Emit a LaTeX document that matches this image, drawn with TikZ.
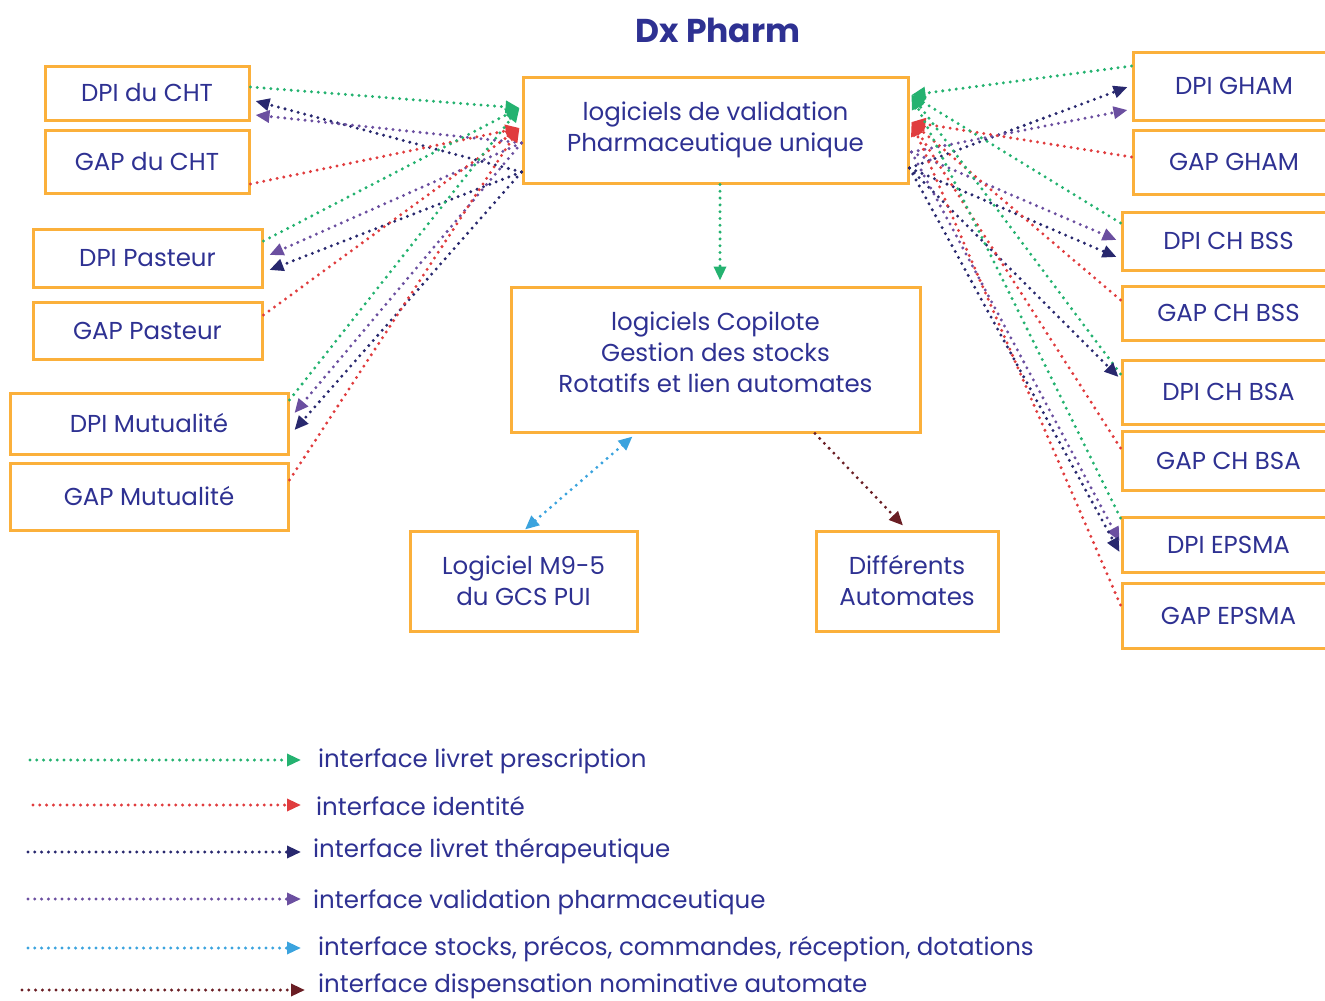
\documentclass[tikz,border=0pt]{standalone}
\usepackage{fontspec}
\setmainfont{Poppins}
\usetikzlibrary{arrows.meta}
\definecolor{txtblue}{RGB}{46,49,146}
\definecolor{boxorange}{RGB}{251,176,59}
\definecolor{pgreen}{RGB}{36,178,112}
\definecolor{pred}{RGB}{224,60,62}
\definecolor{pnavy}{RGB}{40,40,110}
\definecolor{ppurple}{RGB}{107,79,160}
\definecolor{pblue}{RGB}{59,163,222}
\definecolor{pbrown}{RGB}{106,30,36}
\begin{document}
\begin{tikzpicture}
    [
    x=1pt, y=-1pt,
    Tri/.tip={Triangle[length=14pt,width=12pt]},
    box/.style={draw=boxorange,line width=3pt,inner sep=0pt,align=center,text=txtblue,font=\fontsize{24.5}{31}\selectfont},
    legend/.style={anchor=base west,inner sep=0pt,text=txtblue,font=\fontsize{24.5}{31}\selectfont},
    link/.style={line width=3.3pt,line cap=round,dash pattern=on 0pt off 6.8pt,-Tri},
    prescription/.style={link,draw=pgreen},
    identite/.style={link,draw=pred},
    livret/.style={link,draw=pnavy},
    validation/.style={link,draw=ppurple},
    stocks/.style={link,draw=pblue,Tri-Tri},
    dispensation/.style={link,draw=pbrown}
    ]
    \useasboundingbox (0,0) rectangle (1325,1001);
    \node (title) at (718,30) [text=txtblue,font=\bfseries\fontsize{33}{40}\selectfont] {Dx Pharm};
    % central software
    \node (V) at (715.5,130) [box,minimum width=385,minimum height=106] {logiciels de validation\\Pharmaceutique unique};
    \node (Copilote) at (715.5,359.5) [box,minimum width=409,minimum height=145,text depth=14pt] {logiciels Copilote\\Gestion des stocks\\Rotatifs et lien automates};
    \node (M95) at (523.5,581) [box,minimum width=227,minimum height=100] {Logiciel M9-5\\du GCS PUI};
    \node (Autom) at (907,581) [box,minimum width=182,minimum height=100] {Différents\\Automates};
    % left sites
    \node (DPIcht) at (147,93) [box,minimum width=204,minimum height=54] {DPI du CHT};
    \node (GAPcht) at (147,161.5) [box,minimum width=204,minimum height=63] {GAP du CHT};
    \node (DPIpast) at (147.5,258) [box,minimum width=229,minimum height=58] {DPI Pasteur};
    \node (GAPpast) at (147.5,330.5) [box,minimum width=229,minimum height=57] {GAP Pasteur};
    \node (DPImut) at (149,423.5) [box,minimum width=278,minimum height=61] {DPI Mutualité};
    \node (GAPmut) at (149,496.5) [box,minimum width=278,minimum height=67] {GAP Mutualité};
    % right sites
    \node (DPIgham) at (1234,86) [box,minimum width=202,minimum height=68] {DPI GHAM};
    \node (GAPgham) at (1234,162) [box,minimum width=202,minimum height=64] {GAP GHAM};
    \node (DPIbss) at (1228.5,241) [box,minimum width=213,minimum height=58] {DPI CH BSS};
    \node (GAPbss) at (1228.5,313) [box,minimum width=213,minimum height=54] {GAP CH BSS};
    \node (DPIbsa) at (1228.5,392) [box,minimum width=213,minimum height=64] {DPI CH BSA};
    \node (GAPbsa) at (1228.5,460.5) [box,minimum width=213,minimum height=59] {GAP CH BSA};
    \node (DPIepsma) at (1228.5,544.5) [box,minimum width=213,minimum height=55] {DPI EPSMA};
    \node (GAPepsma) at (1228.5,615.5) [box,minimum width=213,minimum height=65] {GAP EPSMA};
    % left links
    \draw [prescription] ([yshift=6pt]DPIcht.east) to ([xshift=-2pt,yshift=22pt]V.west);
    \draw [livret] ([yshift=-42pt]V.west) to ([xshift=5pt,yshift=-8pt]DPIcht.east);
    \draw [validation] ([yshift=-13pt]V.west) to ([xshift=5pt,yshift=-22pt]DPIcht.east);
    \draw [identite] ([yshift=-22.5pt]GAPcht.east) to ([xshift=-2pt,yshift=2pt]V.west);
    \draw [prescription] ([yshift=17pt]DPIpast.east) to ([xshift=-2pt,yshift=22pt]V.west);
    \draw [validation] ([yshift=-13pt]V.west) to ([xshift=6pt,yshift=3pt]DPIpast.east);
    \draw [livret] ([yshift=-42pt]V.west) to ([xshift=6pt,yshift=-12pt]DPIpast.east);
    \draw [identite] ([yshift=15.5pt]GAPpast.east) to ([xshift=-2pt,yshift=2pt]V.west);
    \draw [prescription] ([yshift=23.5pt]DPImut.east) to ([xshift=-2pt,yshift=22pt]V.west);
    \draw [validation] ([yshift=-13pt]V.west) to ([xshift=5pt,yshift=10.5pt]DPImut.east);
    \draw [livret] ([yshift=-42pt]V.west) to ([xshift=5pt,yshift=-6.5pt]DPImut.east);
    \draw [identite] ([yshift=16.5pt]GAPmut.east) to ([xshift=-2pt,yshift=2pt]V.west);
    % right links
    \draw [prescription] ([yshift=20pt]DPIgham.west) to ([xshift=2pt,yshift=35pt]V.east);
    \draw [livret] ([yshift=-38pt]V.east) to ([xshift=-4pt,yshift=-1pt]DPIgham.west);
    \draw [validation] ([xshift=2pt,yshift=-22pt]V.east) to ([xshift=-4pt,yshift=-24pt]DPIgham.west);
    \draw [identite] ([yshift=5pt]GAPgham.west) to ([xshift=2pt,yshift=8pt]V.east);
    \draw [prescription] ([yshift=18pt]DPIbss.west) to ([xshift=2pt,yshift=35pt]V.east);
    \draw [validation] ([xshift=2pt,yshift=-22pt]V.east) to ([xshift=-4pt,yshift=1pt]DPIbss.west);
    \draw [livret] ([yshift=-38pt]V.east) to ([xshift=-4pt,yshift=-16pt]DPIbss.west);
    \draw [identite] ([yshift=13pt]GAPbss.west) to ([xshift=2pt,yshift=8pt]V.east);
    \draw [prescription] ([yshift=18pt]DPIbsa.west) to ([xshift=2pt,yshift=35pt]V.east);
    \draw [livret] ([yshift=-38pt]V.east) to ([xshift=-2pt,yshift=15pt]DPIbsa.west);
    \draw [identite] ([yshift=12.5pt]GAPbsa.west) to ([xshift=2pt,yshift=8pt]V.east);
    \draw [prescription] ([yshift=26.5pt]DPIepsma.west) to ([xshift=2pt,yshift=35pt]V.east);
    \draw [validation] ([xshift=2pt,yshift=-22pt]V.east) to ([xshift=-1pt,yshift=3.5pt]DPIepsma.west);
    \draw [livret] ([yshift=-38pt]V.east) to ([xshift=-1pt,yshift=-7.5pt]DPIepsma.west);
    \draw [identite] ([yshift=10.5pt]GAPepsma.west) to ([xshift=2pt,yshift=8pt]V.east);
    % center links
    \draw [prescription] ([xshift=4.5pt]V.south) to ([xshift=4.5pt,yshift=5pt]Copilote.north);
    \draw [stocks] ([xshift=-83pt,yshift=-3pt]Copilote.south) to ([xshift=1.5pt]M95.north);
    \draw [dispensation] ([xshift=99.5pt]Copilote.south) to ([xshift=-4pt,yshift=4pt]Autom.north);
    % legend
    \coordinate (P1a) at (30,760);
    \coordinate (P1b) at (301,760);
    \coordinate (P2a) at (33,805);
    \coordinate (P2b) at (301,805);
    \coordinate (P3a) at (28,852);
    \coordinate (P3b) at (301,852);
    \coordinate (P4a) at (28,899);
    \coordinate (P4b) at (301,899);
    \coordinate (P5a) at (28,948);
    \coordinate (P5b) at (301,948);
    \coordinate (P6a) at (22,990);
    \coordinate (P6b) at (305,990);
    \draw [prescription] (P1a) to (P1b);
    \draw [identite] (P2a) to (P2b);
    \draw [livret] (P3a) to (P3b);
    \draw [validation] (P4a) to (P4b);
    \draw [stocks,-Tri] (P5a) to (P5b);
    \draw [dispensation] (P6a) to (P6b);
    \node (L1) at (318,767) [legend] {interface livret prescription};
    \node (L2) at (316,815) [legend] {interface identité};
    \node (L3) at (313,857) [legend] {interface livret thérapeutique};
    \node (L4) at (313,908) [legend] {interface validation pharmaceutique};
    \node (L5) at (318,955) [legend] {interface stocks, précos, commandes, réception, dotations};
    \node (L6) at (318,992) [legend] {interface dispensation nominative automate};
\end{tikzpicture}
\end{document}
